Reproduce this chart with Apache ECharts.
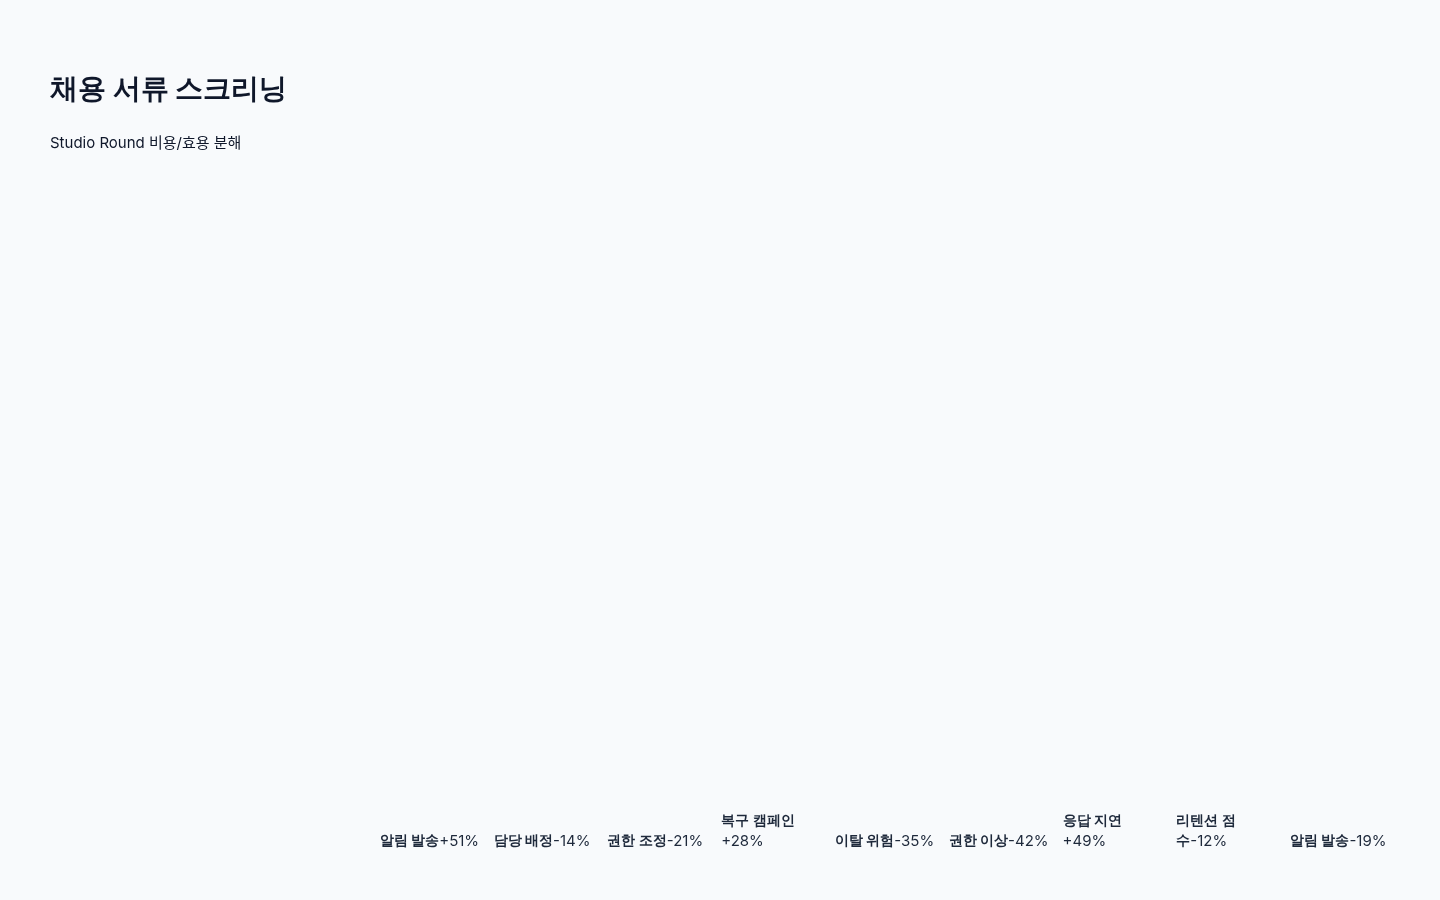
<!DOCTYPE html>
<html lang="ko">
<head>
  <meta charset="UTF-8">
  <title>채용 서류 스크리닝</title>
  <script src="https://cdn.jsdelivr.net/npm/echarts@6/dist/echarts.min.js"></script>
  <style>
    html, body {
      margin: 0;
      padding: 0;
      background: #f8fafc;
    }
    #main {
      width: 1440px;
      height: 900px;
    }
  </style>
</head>
<body>
  <div id="main"></div>

  <script>
    // 단계 이름과 변화율(%)
    const steps = ['알림 발송', '담당 배정', '권한 조정', '복구 캠페인', '이탈 위험', '권한 이상', '응답 지연', '리텐션 점수', '알림 발송'];
    const deltas = [51, -14, -21, 28, -35, -42, 49, -12, -19];

    const font = 'Inter, sans-serif';
    const nameFont = 'bold 14px ' + font;
    const valueFont = '15px ' + font;
    const maxWidth = 100;

    const chart = echarts.init(document.getElementById('main'));
    const ctx = document.createElement('canvas').getContext('2d');

    const fmt = v => (v > 0 ? '+' : '') + v + '%';
    const textWidth = (s, f) => {
      ctx.font = f;
      return ctx.measureText(s).width;
    };

    // 글자 단위로 줄바꿈 (값은 한 덩어리, '-' 앞 글자는 값에 붙음)
    function wrapLabel(name, value) {
      const units = Array.from(name).map(c => ({ n: c, v: '' }));
      if (value.startsWith('-')) {
        units[units.length - 1].v = value;
      } else {
        units.push({ n: '', v: value });
      }
      const lines = [[]];
      let cur = 0;
      units.forEach(u => {
        const w = textWidth(u.n, nameFont) + textWidth(u.v, valueFont);
        if (cur > 0 && cur + w > maxWidth) {
          lines.push([]);
          cur = 0;
        }
        if (cur === 0 && u.n === ' ' && !u.v) return;
        lines[lines.length - 1].push(u);
        cur += w;
      });
      return lines.map(line => {
        const n = line.map(u => u.n).join('').trimEnd();
        const v = line.map(u => u.v).join('');
        return (n ? '{n|' + n + '}' : '') + (v ? '{v|' + v + '}' : '');
      }).join('\n');
    }

    const option = {
      backgroundColor: '#f8fafc',
      title: {
        text: '채용 서류 스크리닝',
        subtext: 'Studio Round 비용/효용 분해',
        left: 45,
        top: 65,
        itemGap: 23,
        textStyle: {
          fontFamily: font,
          fontSize: 28,
          fontWeight: 'bold',
          color: '#0f172a',
          lineHeight: 40
        },
        subtextStyle: {
          fontFamily: 'Inter, "Noto Sans CJK KR", sans-serif',
          fontSize: 15,
          color: '#0f172a',
          lineHeight: 20
        }
      },
      grid: {
        left: 323,
        right: 93,
        top: 200,
        bottom: 57
      },
      xAxis: {
        type: 'category',
        data: steps,
        axisLine: { show: false },
        axisTick: { show: false },
        axisLabel: {
          interval: 0,
          margin: 8,
          align: 'left',
          verticalAlign: 'bottom',
          lineHeight: 20,
          color: '#1e293b',
          fontFamily: font,
          formatter: (v, i) => wrapLabel(v, fmt(deltas[i])),
          rich: {
            n: { fontFamily: font, fontSize: 14, fontWeight: 'bold', color: '#1e293b', lineHeight: 20 },
            v: { fontFamily: font, fontSize: 15, color: '#1e293b', lineHeight: 20 }
          }
        }
      },
      yAxis: {
        type: 'value',
        show: false,
        splitLine: { show: false }
      }
    };

    chart.setOption(option);
  </script>
</body>
</html>
